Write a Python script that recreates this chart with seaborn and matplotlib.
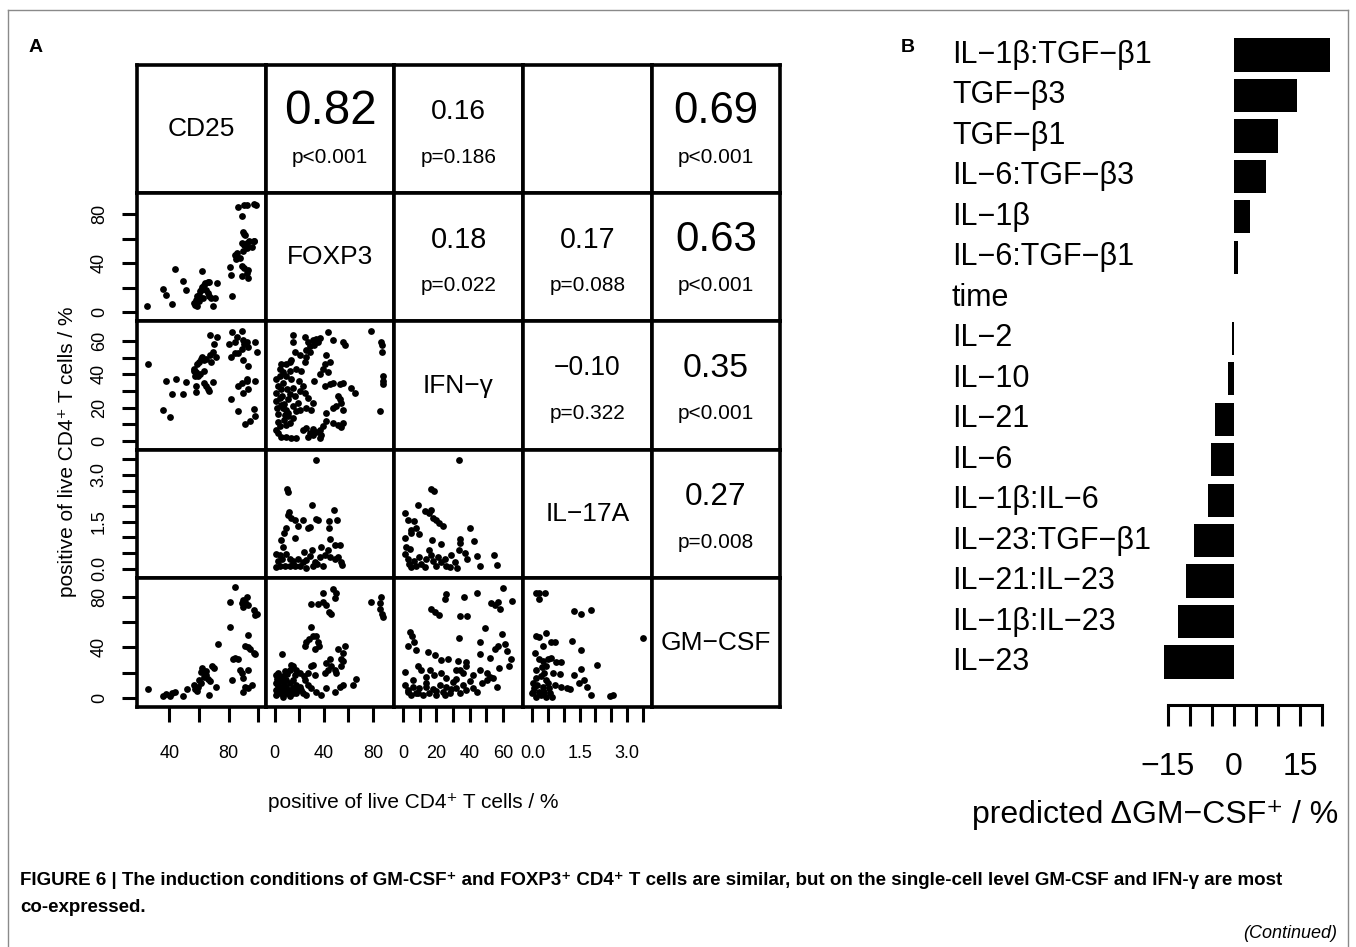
import numpy as np
import matplotlib
matplotlib.use("Agg")
import matplotlib.pyplot as plt
import matplotlib.transforms as mtransforms
from matplotlib.lines import Line2D
import seaborn as sns

plt.rcParams['font.family'] = ['Liberation Sans', 'DejaVu Sans']

# ---- data: scatter matrix (x variable, y variable) ----
variables = ["CD25", "FOXP3", "IFN\u2212\u03b3", "IL\u221217A", "GM\u2212CSF"]

cd25_foxp3 = np.array([
    [25, 5], [36, 19], [37.5, 14], [41.6, 7], [44, 35], [49.6, 25.7], [51, 18.4], [62, 34],
    [56.5, 7.6], [57.5, 6.2], [58.7, 5.4], [58, 10.3], [59, 13], [60, 14.3], [61, 17], [61.3, 18.4],
    [62.4, 21], [63.6, 22.4], [64.3, 23.8], [65.9, 24.5], [67, 25], [64.8, 18.4], [65.9, 15.7],
    [67, 13.5], [68, 11.6], [69.3, 5], [70.8, 12], [72, 24], [62.5, 12], [60, 9],
    [80.7, 37], [81.9, 30], [82.3, 13.5], [84.2, 47], [85.3, 43], [86, 48], [86.5, 85.4], [87.6, 44],
    [90.3, 87], [88.7, 78.4], [89.5, 65.7], [90.3, 64], [91, 63], [88.7, 56], [90.3, 55], [92.4, 56],
    [93.5, 57.6], [96.8, 57.6], [95.6, 53.5], [92.2, 52.2], [89.9, 49.5], [88.7, 37.3], [90.6, 36],
    [93.3, 34.6], [92.2, 32], [88.7, 29.7], [92.9, 28], [92.2, 87.6], [96.8, 87.8], [98.6, 87.6],
    [97.4, 58]])

cd25_ifng = np.array([
    [25.4, 46.3], [36, 18.4], [40.7, 14.3], [37.5, 36.1], [44.3, 37.1], [42, 28], [49.4, 28.4],
    [51.4, 35.7], [57.8, 29.4], [58.2, 33.1], [57.8, 41.2], [56.7, 42.2], [59, 46.3], [60.1, 47.3],
    [61.3, 49.4], [62.4, 50.4], [63.6, 48.4], [64.7, 49.4], [65.9, 31], [67, 30], [64.7, 33],
    [63.1, 35.1], [69.3, 35.5], [68.1, 47.3], [67.2, 51.4], [69.3, 53.5], [70.4, 58.6], [71.6, 50.4],
    [67.7, 63.7], [72.3, 62.7], [56.7, 43.3], [57.4, 39.2], [59.5, 39.2], [60.8, 40.2], [63.6, 42.2],
    [80.3, 58.6], [82.3, 65.3], [84.2, 59.6], [86, 62.7], [88.7, 66.1], [89.9, 60.6], [90.6, 58.6],
    [92.2, 59.6], [93.3, 56.5], [97.9, 59.6], [99, 53.5], [81.4, 50.4], [84.2, 52.9], [86.5, 53],
    [88.7, 55.5], [89.9, 48.4], [93.3, 45.3], [81.9, 25.3], [86.5, 33], [88.7, 35.1], [92.2, 36.1],
    [89.9, 29], [93.3, 31], [92.2, 37.1], [86.5, 17.8], [91, 10], [94.5, 12], [96.8, 19.2],
    [97.9, 14.7], [97.9, 36.1]])

cd25_gmcsf = np.array([
    [25.4, 6.7], [36, 1.3], [38, 2.7], [40.7, 1.3], [41.8, 3.5], [44.1, 4.8], [49.4, 1.3], [51.7, 6.7],
    [56.7, 10.2], [57.2, 6.7], [59, 5.6], [59.5, 8.9], [60.1, 13.7], [61.3, 11.5], [62.4, 23.6],
    [63.6, 16.4], [64.7, 18.3], [65.9, 14.8], [67, 2.1], [67.7, 12.9], [68.6, 25.5], [70.4, 23.6],
    [71.6, 8.3], [72.7, 42.4], [61.7, 20.1], [65.1, 21], [80.7, 55.9], [80.7, 76], [82.3, 14.2],
    [84.2, 87.6], [83, 30.9], [84.6, 31.7], [86.5, 30.4], [87.6, 22.3], [88.7, 75.2], [89.9, 77.4],
    [91, 76], [89.9, 72], [92.2, 80], [93.3, 73.3], [96.8, 69.3], [97.9, 65.3], [99, 66.6],
    [88.7, 19.6], [89.9, 15.6], [91, 8.9], [89.9, 4.6], [93.3, 22.3], [92.9, 50], [91, 41],
    [93.3, 39.8], [94.5, 38.4], [96.8, 35.7], [97.9, 34.4], [95.6, 10.2], [93.3, 7.5]])

foxp3_ifng = np.array([
    [14.9, 63.7], [24.4, 62.7], [27.1, 59.6], [28.5, 57], [31.2, 60.6], [33.9, 61.6], [35.3, 59.6],
    [36.6, 62], [43.4, 65.3], [47.5, 60.6], [55.6, 59.6], [57, 58], [25.8, 54.5], [28.5, 53.5],
    [31.9, 57.6], [14.9, 59.6], [16.3, 53.5], [13.6, 48.4], [12.2, 47.3], [9.5, 46.3], [5.4, 46.3],
    [4, 43.3], [6.8, 41.2], [4.6, 39.2], [1.4, 37.1], [2.7, 33], [5.4, 31], [1.4, 29], [4, 25.9],
    [1.4, 23.9], [5.4, 21.8], [6.8, 19.8], [9.5, 18.8], [8.1, 15.7], [10.8, 14.7], [7.3, 12.6],
    [12.2, 10.6], [9.5, 9.6], [14.9, 13.7], [17.6, 17.8], [19, 22.9], [16.3, 26.9], [20.3, 30],
    [23, 33], [19.8, 36.1], [21.7, 42.2], [17.6, 43.3], [24.4, 47.3], [25.8, 50.4], [20.3, 51.4],
    [12.2, 42.2], [13.6, 37.1], [14.9, 32], [12.2, 28], [10.8, 24.9], [14.9, 20.8], [20.3, 18.8],
    [25.8, 19.8], [29.8, 18.8], [31.2, 22.9], [27.1, 25.9], [24.4, 29], [31.9, 36.1], [36.6, 40.2],
    [39.3, 43.3], [40.7, 46.3], [42, 51.4], [44.8, 47.3], [43.4, 41.2], [40.7, 33], [44.8, 34.1],
    [47.5, 35.1], [52.9, 34.1], [55.6, 35.1], [62.3, 32], [65, 29], [51.5, 26.9], [52.9, 24.9],
    [54.3, 22.9], [55.6, 18.8], [50.2, 20.8], [47.5, 19.8], [42, 16.7], [42, 11.6], [47.5, 10.6],
    [51.5, 9.6], [54.3, 8.2], [55.6, 10.6], [39.3, 8.6], [36.6, 6.5], [33.9, 5.5], [31.2, 6.9],
    [28.5, 4.5], [25.8, 7.6], [23, 6.5], [27.1, 2.4], [31.2, 3.5], [36.6, 1.4], [38, 3.5], [2.7, 4.5],
    [5.4, 2.4], [9.5, 2.4], [13.6, 1.4], [17.6, 1.4], [1.4, 6.5], [4, 8.6], [3, 16], [2, 20],
    [6, 27], [8, 22], [11, 17], [3, 11], [7, 35], [10, 31], [9, 39],
    [78.7, 66.1], [86.8, 59.6], [87.6, 57.6], [87.6, 53.5], [88.1, 39.2], [88.1, 36.1],
    [88.1, 34.1], [85.4, 17.8]])

foxp3_il17a = np.array([
    [33.9, 3.48], [10, 2.55], [10.6, 2.47], [30.4, 2.03], [48, 1.88], [11.7, 1.81], [10.8, 1.73],
    [13.6, 1.62], [16.3, 1.57], [19.3, 1.37], [23, 1.55], [27.1, 1.3], [28.9, 1.33], [33.4, 1.59],
    [35.3, 1.55], [44.2, 1.52], [51, 1.55], [44.2, 1.3], [9, 1.3], [7.3, 1.13], [16.3, 0.97],
    [5.4, 0.92], [48.8, 0.77], [52.9, 0.77], [44.8, 0.94], [37.4, 0.68], [43.4, 0.61], [30.4, 0.61],
    [23.9, 0.53], [1.4, 0.48], [4, 0.43], [9.5, 0.48], [12.2, 0.32], [14.9, 0.26], [19, 0.32],
    [23, 0.21], [25.8, 0.28], [29, 0.39], [32.5, 0.21], [36.6, 0.37], [40.7, 0.43], [44.8, 0.37],
    [48.8, 0.32], [51.5, 0.37], [54.3, 0.21], [55, 0.13], [1.4, 0.04], [4.6, 0.1], [8.1, 0.07],
    [12.2, 0.07], [16.3, 0.1], [20.3, 0.07], [25.2, 0.02], [31.2, 0.1], [34.7, 0.15], [39.3, 0.1],
    [2.7, 0.26], [6, 0.32], [14.9, 0.15], [6.8, 0.7]])

foxp3_gmcsf = np.array([
    [6, 34.4], [1.4, 18.3], [2.7, 19.6], [5.4, 15.6], [8.1, 21], [12.2, 22.3], [14.9, 25],
    [13.6, 26.3], [17.6, 22.3], [20.3, 19.6], [24.4, 14.2], [27.1, 10.2], [29.8, 7.5], [33.9, 4.8],
    [38, 2.1], [42, 7.5], [1.4, 11.5], [1.4, 6.2], [1.4, 2.1], [4, 8.9], [4, 3.5], [6.8, 12.9],
    [6.8, 6.2], [6.8, 0.8], [9.5, 14.2], [9.5, 8.9], [9.5, 3.5], [12.2, 11.5], [12.2, 6.2],
    [12.2, 1.3], [14.9, 14.2], [14.9, 7.5], [17.6, 10.2], [17.6, 3.5], [20.3, 8.9], [23, 3.5],
    [25.8, 2.1], [21.7, 6.2], [16.3, 18.3], [23.5, 16.9], [27.1, 19.6], [29.8, 25], [24.4, 41.1],
    [25.8, 43.8], [28, 46.5], [29.8, 55.9], [31.2, 49.2], [33.9, 49.2], [32.5, 38.4], [35.3, 43.8],
    [36, 41.1], [31.2, 26.3], [32.5, 18.3], [40.7, 19.6], [43.4, 22.3], [42, 27.7], [44.8, 30.4],
    [46.1, 25], [48.8, 22.3], [50.2, 19.6], [54.3, 25], [54.3, 30.4], [55.6, 35.7], [57, 41.1],
    [51.5, 38.4], [55.3, 29], [48.8, 4.8], [52.9, 8.9], [55.6, 10.2], [63.7, 10.2], [65.9, 14.8],
    [29.8, 74], [35.5, 74], [39.6, 76], [39, 82.7], [42, 73.3], [44.2, 68], [46.1, 66.6],
    [47.5, 86.2], [50.2, 82.7], [48.8, 78.7], [78.7, 76], [85.4, 74.7], [86.8, 80], [86, 70.6],
    [87.6, 66.6], [88.1, 63.9], [3, 9], [5, 5], [8, 11], [10, 6], [11, 4], [15, 4], [19, 6],
    [4, 13], [7, 17], [10, 19], [2, 15]])

ifng_il17a = np.array([
    [33.7, 3.48], [16.8, 2.55], [18.3, 2.48], [8.7, 2.03], [12.8, 1.84], [16.8, 1.88], [15.4, 1.77],
    [17.8, 1.62], [19.9, 1.57], [21.5, 1.46], [23.9, 1.37], [1.2, 1.77], [2.6, 1.57], [6.7, 1.52],
    [4.7, 1.24], [7.7, 1.3], [9.3, 1.11], [1.2, 0.97], [4.7, 1.13], [17.4, 0.92], [22.5, 0.79],
    [34.1, 0.95], [34.1, 0.81], [40.2, 1.3], [42.8, 0.88], [33.5, 0.59], [37.1, 0.51], [38.5, 0.32],
    [44.2, 0.39], [46.2, 0.07], [54.8, 0.43], [56.4, 0.12], [1.2, 0.48], [2.6, 0.32], [3.7, 0.15],
    [4.7, 0.04], [6.7, 0.26], [7.7, 0.1], [9.7, 0.37], [10.8, 0.15], [12.8, 0.04], [13.8, 0.32],
    [15.4, 0.59], [16.8, 0.43], [17.8, 0.26], [19.9, 0.1], [20.9, 0.37], [22.9, 0.21], [24.9, 0.32],
    [26, 0.1], [28, 0.04], [29, 0.43], [31, 0.21], [32.5, 0.02], [1.6, 0.7], [4.1, 0.64]])

ifng_gmcsf = np.array([
    [60, 86.8], [44.2, 82.7], [36.7, 80], [25.6, 82.2], [24.9, 78.2], [16.8, 70.6], [18.9, 68],
    [21.5, 65.8], [34.1, 64.7], [38.5, 64.7], [52.9, 74.7], [55.4, 73.3], [57.4, 76], [58.4, 70.6],
    [65.5, 76.5], [49.3, 55.1], [33.7, 47.3], [4.1, 51.8], [5.3, 49.2], [2.6, 41.1], [6.7, 43.8],
    [7.7, 37.9], [14.8, 36.5], [18.9, 33.6], [22.9, 29.8], [27, 30.4], [33.1, 29], [38.1, 28.2],
    [46.2, 34.4], [52.3, 31.7], [55.4, 38.4], [57.4, 41.1], [59.4, 50.5], [61.4, 42.4], [62.5, 37.1],
    [64.9, 30.4], [57.8, 23.6], [63.5, 25.5], [46.2, 44.3], [1.2, 20.4], [8.7, 25], [10.8, 21.8],
    [16.2, 22.3], [18.3, 18.3], [22.9, 19.6], [32, 22.3], [37.7, 25], [42.2, 18.3], [46.2, 22.3],
    [50.3, 19.6], [56.4, 8.9], [54.4, 15.6], [1.2, 10.2], [2.6, 4.8], [4.7, 2.1], [5.7, 8.9],
    [7.7, 3.5], [9.7, 7.5], [11.8, 2.1], [13.8, 8.9], [15.8, 3.5], [17.8, 6.7], [19.9, 2.1],
    [21.9, 10.2], [23.9, 4.8], [26, 8.9], [28, 3.5], [30, 12.1], [32, 7.5], [34.1, 3.5], [36.1, 10.2],
    [38.1, 6.2], [40.2, 12.9], [42.2, 7.5], [44.2, 4.8], [47.3, 11.5], [50.3, 14.2], [52.3, 16.4],
    [34.1, 22.3], [36.1, 19.6], [32, 14.8], [5.7, 14.2], [13.8, 16.4], [26, 15.6], [3, 6], [9, 4],
    [14, 12], [20, 5], [25, 2], [29, 7]])

il17a_gmcsf = np.array([
    [0.11, 83.3], [0.22, 82.7], [0.4, 82.7], [0.22, 78.2], [1.33, 68.5], [1.55, 66.1], [1.87, 69.3],
    [3.5, 47.3], [0.11, 49.2], [0.22, 47.8], [0.43, 51.3], [0.33, 41.1], [0.6, 43.8], [0.71, 44.3],
    [1.25, 45.1], [1.54, 37.6], [0.09, 35.2], [0.22, 30.4], [0.33, 29], [0.49, 30.4], [0.6, 31.7],
    [0.76, 28.2], [0.92, 28.2], [2.04, 26.3], [1.55, 23.1], [0.43, 25], [0.38, 19.6], [0.65, 19.6],
    [0.87, 18.8], [1.33, 17.7], [0.11, 15.6], [0.27, 16.9], [0.43, 14.2], [0.71, 10.2], [0.92, 8.9],
    [1.09, 7.5], [1.2, 6.7], [1.47, 11.5], [1.63, 13.7], [1.74, 8.9], [1.85, 2.1], [2.45, 1.3],
    [2.55, 2.1], [0.02, 11.5], [0.05, 7.5], [0, 3.5], [0.11, 0.8], [0.16, 10.2], [0.2, 4.8],
    [0.27, 2.1], [0.33, 8.9], [0.38, 4.8], [0.43, 0.8], [0.52, 7.5], [0.57, 3.5], [0.63, 0.8],
    [0.49, 11.5], [0.02, 4.8], [0.1, 22], [0.3, 24]])

# upper panels: (row, col) -> correlation and p value
cor_cells = [(0, 1), (0, 2), (0, 4), (1, 2), (1, 3), (1, 4), (2, 3), (2, 4), (3, 4)]
cor_values = [0.82, 0.16, 0.69, 0.18, 0.17, 0.63, -0.10, 0.35, 0.27]
cor_pvalues = ["p<0.001", "p=0.186", "p<0.001", "p=0.022", "p=0.088",
               "p<0.001", "p=0.322", "p<0.001", "p=0.008"]

# ---- data: panel B ----
bar_labels = ["IL\u22121\u03b2:TGF\u2212\u03b21", "TGF\u2212\u03b23", "TGF\u2212\u03b21",
              "IL\u22126:TGF\u2212\u03b23", "IL\u22121\u03b2", "IL\u22126:TGF\u2212\u03b21", "time",
              "IL\u22122", "IL\u221210", "IL\u221221", "IL\u22126", "IL\u22121\u03b2:IL\u22126",
              "IL\u221223:TGF\u2212\u03b21", "IL\u221221:IL\u221223", "IL\u22121\u03b2:IL\u221223",
              "IL\u221223"]
bar_values = [21.7, 14.3, 10.0, 7.2, 3.6, 0.9, 0.1, -0.5, -1.4, -4.3, -5.2, -5.9,
              -9.0, -10.8, -12.7, -15.9]

# ---- layout ----
W, H = 1356, 947
fig = plt.figure(figsize=(W / 100, H / 100), dpi=100)


def px_axes(x0, y0, x1, y1):
    return fig.add_axes([x0 / W, 1 - y1 / H, (x1 - x0) / W, (y1 - y0) / H])


col_edges = [137, 266, 394, 523, 652, 780]
row_edges = [65, 193, 321, 450, 578, 707]
limits = [(18.3, 105.2), (-7, 97), (-5.6, 72.2), (-0.3, 3.8), (-7.3, 94.8)]
ticks = [[40, 60, 80, 100], [0, 20, 40, 60, 80], [0, 10, 20, 30, 40, 50, 60],
         [0, 0.5, 1, 1.5, 2, 2.5, 3, 3.5], [0, 20, 40, 60, 80]]
tick_text = [["40", "", "80", ""], ["0", "", "40", "", "80"], ["0", "", "20", "", "40", "", "60"],
             ["0.0", "", "", "1.5", "", "", "3.0", ""], ["0", "", "40", "", "80"]]

panels = {(1, 0): cd25_foxp3, (2, 0): cd25_ifng, (4, 0): cd25_gmcsf,
          (2, 1): foxp3_ifng, (3, 1): foxp3_il17a, (4, 1): foxp3_gmcsf,
          (3, 2): ifng_il17a, (4, 2): ifng_gmcsf, (4, 3): il17a_gmcsf}

for r in range(5):
    for c in range(5):
        ax = px_axes(col_edges[c], row_edges[r], col_edges[c + 1], row_edges[r + 1])
        if (r, c) in panels:
            pts = panels[(r, c)]
            sns.scatterplot(x=pts[:, 0], y=pts[:, 1], ax=ax, color="black",
                            s=24, linewidth=0)
        ax.set_xlim(limits[c])
        ax.set_ylim(limits[r])
        ax.set_xlabel("")
        ax.set_ylabel("")
        ax.set_xticks([])
        ax.set_yticks([])
        for sp in ax.spines.values():
            sp.set_linewidth(2.6)
            sp.set_color("black")
        if r == c:
            ax.text(0.5, 0.5, variables[r], transform=ax.transAxes, ha="center",
                    va="center", fontsize=19)
        elif r < c and (r, c) in cor_cells:
            k = cor_cells.index((r, c))
            txt = f"{cor_values[k]:.2f}".replace("-", "\u2212")
            ax.text(0.5, 0.635, txt, transform=ax.transAxes, ha="center", va="center",
                    fontsize=17 + 21 * abs(cor_values[k]))
            ax.text(0.5, 0.28, cor_pvalues[k], transform=ax.transAxes, ha="center",
                    va="center", fontsize=15)
        if r > c and c == 0:
            ax.set_yticks(ticks[r])
            ax.set_yticklabels(tick_text[r])
            ax.tick_params(axis="y", direction="out", length=11, width=2.2, pad=10,
                           labelsize=13, labelrotation=90)
            for lab in ax.get_yticklabels():
                lab.set_va("center")
        if r > c and r == 4:
            ax.set_xticks(ticks[c])
            ax.set_xticklabels(tick_text[c])
            ax.tick_params(axis="x", direction="out", length=11, width=2.2, pad=16,
                           labelsize=13)

fig.text(68 / W, 1 - 452 / H, "positive of live CD4\u207a T cells / %", rotation=90,
         ha="center", va="center", fontsize=15)
fig.text(413 / W, 1 - 802 / H, "positive of live CD4\u207a T cells / %",
         ha="center", va="center", fontsize=15)

# ---- panel B ----
axb = px_axes(1100, 34.75, 1345, 682.25)
sns.barplot(x=bar_values, y=bar_labels, orient="h", color="black", saturation=1,
            width=0.82, edgecolor="none", ax=axb)
axb.set_xlim((1100 - 1234) / 4.42, (1345 - 1234) / 4.42)
axb.set_ylim(len(bar_values) - 0.5, -0.5)
axb.set_ylabel("")
axb.set_xlabel("")
axb.set_yticks([])
for side in ["left", "top", "right"]:
    axb.spines[side].set_visible(False)
axb.spines["bottom"].set_position(("outward", 16.5))
axb.spines["bottom"].set_bounds(-15, 20)
axb.spines["bottom"].set_linewidth(2.2)
axb.set_xticks([-15, -10, -5, 0, 5, 10, 15, 20])
axb.set_xticklabels(["\u221215", "", "", "0", "", "", "15", ""])
axb.tick_params(axis="x", direction="out", length=15, width=2.2, pad=19, labelsize=23)
axb.patch.set_visible(False)

lab_tr = mtransforms.blended_transform_factory(fig.transFigure, axb.transData)
for i, lab in enumerate(bar_labels):
    axb.text(952 / W, i, lab, transform=lab_tr, ha="left", va="center", fontsize=22)

fig.text(1155 / W, 1 - 815 / H, "predicted \u0394GM\u2212CSF\u207a / %", ha="center",
         va="center", fontsize=23)

# ---- panel letters, frame, caption ----
fig.text(36 / W, 1 - 47 / H, "A", ha="center", va="center", fontsize=14, weight="bold")
fig.text(908 / W, 1 - 47 / H, "B", ha="center", va="center", fontsize=14, weight="bold")

frame = dict(color="#8a8a8a", lw=1, transform=fig.transFigure)
fig.add_artist(Line2D([8 / W, 8 / W], [0, 1 - 10 / H], **frame))
fig.add_artist(Line2D([8 / W, 1348 / W], [1 - 10 / H, 1 - 10 / H], **frame))
fig.add_artist(Line2D([1348 / W, 1348 / W], [0, 1 - 10 / H], **frame))

fig.text(20 / W, 1 - 880 / H,
         "FIGURE 6 | The induction conditions of GM-CSF\u207a and FOXP3\u207a CD4\u207a T cells are "
         "similar, but on the single-cell level GM-CSF and IFN-\u03b3 are most",
         ha="left", va="center", fontsize=13.5, weight="bold")
fig.text(20 / W, 1 - 907 / H, "co-expressed.", ha="left", va="center", fontsize=13.5,
         weight="bold")
fig.text(1337 / W, 1 - 933 / H, "(Continued)", ha="right", va="center", fontsize=13,
         style="italic")

fig.savefig("out.png", dpi=100)
